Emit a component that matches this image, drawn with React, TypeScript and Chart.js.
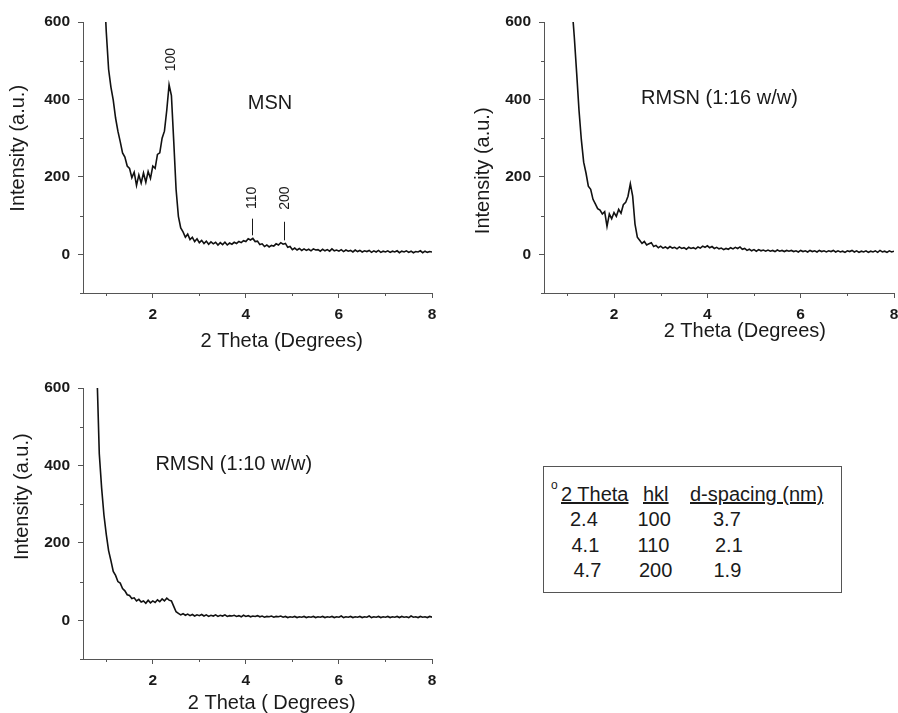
import React, { useEffect, useRef } from 'react';
import { Chart, registerables } from 'chart.js';

Chart.register(...registerables);

// ---------------- data ----------------
const THETA = [
  0.8, 0.85, 0.9, 0.95, 1.0, 1.05, 1.1, 1.15, 1.2, 1.25,
  1.3, 1.35, 1.4, 1.45, 1.5, 1.55, 1.6, 1.65, 1.7, 1.75,
  1.8, 1.85, 1.9, 1.95, 2.0, 2.05, 2.1, 2.15, 2.2, 2.25,
  2.3, 2.35, 2.4, 2.45, 2.5, 2.55, 2.6, 2.65, 2.7, 2.75,
  2.8, 2.85, 2.9, 2.95, 3.0, 3.05, 3.1, 3.15, 3.2, 3.25,
  3.3, 3.35, 3.4, 3.45, 3.5, 3.55, 3.6, 3.65, 3.7, 3.75,
  3.8, 3.85, 3.9, 3.95, 4.0, 4.05, 4.1, 4.15, 4.2, 4.25,
  4.3, 4.35, 4.4, 4.45, 4.5, 4.55, 4.6, 4.65, 4.7, 4.75,
  4.8, 4.85, 4.9, 4.95, 5.0, 5.05, 5.1, 5.15, 5.2, 5.25,
  5.3, 5.35, 5.4, 5.45, 5.5, 5.55, 5.6, 5.65, 5.7, 5.75,
  5.8, 5.85, 5.9, 5.95, 6.0, 6.05, 6.1, 6.15, 6.2, 6.25,
  6.3, 6.35, 6.4, 6.45, 6.5, 6.55, 6.6, 6.65, 6.7, 6.75,
  6.8, 6.85, 6.9, 6.95, 7.0, 7.05, 7.1, 7.15, 7.2, 7.25,
  7.3, 7.35, 7.4, 7.45, 7.5, 7.55, 7.6, 7.65, 7.7, 7.75,
  7.8, 7.85, 7.9, 7.95, 8.0,
];

const MSN = [
  null, null, null, 700, 575, 478, 432, 398, 352, 318,
  291, 262, 251, 228, 222, 198, 212, 178, 205, 184,
  210, 186, 214, 196, 228, 222, 258, 262, 300, 318,
  372, 438, 410, 292, 168, 98, 68, 58, 44, 52,
  38, 44, 33, 40, 30, 36, 28, 34, 26, 32,
  27, 31, 24, 30, 25, 31, 24, 29, 26, 31,
  28, 33, 30, 35, 33, 40, 37, 41, 33, 34,
  25, 27, 20, 24, 19, 23, 21, 27, 24, 30,
  26, 28, 18, 20, 12, 16, 11, 15, 10, 14,
  10, 13, 9, 14, 11, 12, 8, 13, 9, 12,
  8, 14, 9, 11, 8, 12, 7, 11, 8, 10,
  6, 11, 7, 10, 6, 9, 7, 10, 5, 9,
  6, 10, 5, 8, 6, 9, 5, 8, 6, 9,
  4, 8, 6, 9, 5, 8, 4, 7, 6, 9,
  4, 8, 5, 7, 6,
];

const RMSN_16 = [
  null, null, null, null, null, null, 640, 560, 468, 372,
  296, 238, 210, 176, 168, 142, 130, 118, 114, 104,
  110, 72, 104, 92, 108, 98, 116, 106, 128, 134,
  150, 182, 150, 78, 44, 36, 28, 33, 24, 27,
  30, 20, 23, 17, 21, 16, 19, 15, 20, 16,
  18, 14, 19, 15, 17, 13, 18, 15, 17, 14,
  19, 16, 21, 18, 22, 17, 20, 15, 18, 14,
  16, 12, 15, 13, 17, 14, 18, 15, 19, 13,
  15, 10, 13, 9, 12, 8, 12, 9, 11, 8,
  11, 8, 10, 7, 11, 8, 10, 7, 10, 8,
  10, 7, 9, 6, 10, 7, 9, 6, 10, 7,
  9, 6, 10, 7, 9, 6, 9, 7, 10, 6,
  9, 6, 8, 5, 9, 7, 10, 6, 9, 5,
  8, 6, 9, 5, 8, 6, 9, 5, 10, 6,
  8, 5, 9, 6, 8,
];

const RMSN_10 = [
  640, 430, 342, 272, 222, 180, 154, 126, 116, 100,
  96, 82, 76, 66, 64, 56, 58, 50, 54, 47,
  50, 44, 52, 45, 50, 46, 53, 48, 55, 50,
  57, 52, 50, 36, 22, 18, 14, 17, 13, 16,
  12, 15, 11, 14, 12, 15, 11, 14, 10, 13,
  11, 14, 10, 13, 11, 14, 10, 12, 11, 13,
  10, 12, 9, 13, 10, 12, 9, 11, 10, 12,
  9, 11, 8, 10, 9, 11, 8, 10, 9, 11,
  8, 10, 7, 9, 8, 10, 7, 9, 8, 10,
  7, 9, 8, 10, 7, 9, 8, 10, 7, 9,
  8, 10, 7, 9, 8, 11, 7, 9, 8, 10,
  7, 9, 8, 10, 7, 9, 8, 11, 7, 9,
  8, 10, 7, 9, 8, 10, 7, 9, 8, 10,
  7, 10, 8, 9, 7, 11, 8, 9, 7, 10,
  8, 9, 7, 10, 8,
];

const X_TICKS = [1, 2, 3, 4, 5, 6, 7, 8];
const X_LABELED = [2, 4, 6, 8];
const Y_TICKS = [-100, 0, 100, 200, 300, 400, 500, 600];
const Y_LABELED = [0, 200, 400, 600];

const SAMPLE_NAMES = ['MSN', 'RMSN (1:16 w/w)', 'RMSN (1:10 w/w)'];
const Y_TITLE = 'Intensity (a.u.)';
const X_TITLES = ['2 Theta (Degrees)', '2 Theta (Degrees)', '2 Theta ( Degrees)'];

// peak (hkl) labels of the MSN pattern
const PEAK_LABELS = ['100', '110', '200'];
const PEAK_LABEL_X = [2.38, 4.12, 4.82];
const PEAK_LABEL_Y = [503, 146, 145];
const PEAK_MARK_X = [null, 4.14, 4.83];
const PEAK_MARK_TOP = [null, 92, 84];
const PEAK_MARK_BOTTOM = [null, 49, 36];

// table
const TABLE_HEAD = ['2 Theta', 'hkl', 'd-spacing (nm)'];
const TABLE_THETA = ['2.4', '4.1', '4.7'];
const TABLE_HKL = ['100', '110', '200'];
const TABLE_D = ['3.7', '2.1', '1.9'];

// ---------------- styling / layout ----------------
const FONT = '"Liberation Sans", Arial, Helvetica, sans-serif';
const AXIS_COLOR = '#555555';
const INK = '#1a1a1a';
const LINE_COLOR = '#111111';

type PanelCfg = {
  key: string;
  series: (number | null)[];
  nameIdx: number;
  nameX: number;
  nameY: number;
  left: number;
  top: number;
  w: number;
  h: number;
  yAxisW: number;
  padTop: number;
  padRight: number;
  xAxisH: number;
  yTitlePos: [number, number];
  xTitlePos: [number, number];
  peaks: boolean;
};

const PANELS: PanelCfg[] = [
  {
    key: 'msn', series: MSN, nameIdx: 0, nameX: 4.52, nameY: 374,
    left: 0, top: 0, w: 450, h: 360, yAxisW: 83, padTop: 22, padRight: 18, xAxisH: 67,
    yTitlePos: [24, 148.3], xTitlePos: [281.7, 346.5], peaks: true,
  },
  {
    key: 'r16', series: RMSN_16, nameIdx: 1, nameX: 4.26, nameY: 389,
    left: 450, top: 0, w: 460, h: 360, yAxisW: 94, padTop: 22, padRight: 16, xAxisH: 67,
    yTitlePos: [38.5, 170.8], xTitlePos: [294.8, 336.5], peaks: false,
  },
  {
    key: 'r10', series: RMSN_10, nameIdx: 2, nameX: 3.74, nameY: 387,
    left: 0, top: 360, w: 450, h: 360, yAxisW: 83, padTop: 28, padRight: 18, xAxisH: 61,
    yTitlePos: [27.5, 136.7], xTitlePos: [271.7, 348.5], peaks: false,
  },
];

function Panel({ p }: { p: PanelCfg }) {
  const ref = useRef<HTMLCanvasElement>(null);

  useEffect(() => {
    const canvas = ref.current;
    if (!canvas) return;

    const overlay = {
      id: 'overlay-' + p.key,
      afterDraw(chart: any) {
        const { ctx, chartArea: a, scales } = chart;
        const xs = scales.x;
        const ys = scales.y;
        ctx.save();
        // minor ticks
        ctx.strokeStyle = AXIS_COLOR;
        ctx.lineWidth = 1;
        X_TICKS.filter((v) => !X_LABELED.includes(v)).forEach((v) => {
          const px = Math.round(xs.getPixelForValue(v)) + 0.5;
          ctx.beginPath();
          ctx.moveTo(px, a.bottom);
          ctx.lineTo(px, a.bottom + 3);
          ctx.stroke();
        });
        Y_TICKS.filter((v) => !Y_LABELED.includes(v)).forEach((v) => {
          const py = Math.round(ys.getPixelForValue(v)) + 0.5;
          ctx.beginPath();
          ctx.moveTo(a.left, py);
          ctx.lineTo(a.left - 3, py);
          ctx.stroke();
        });

        ctx.fillStyle = INK;
        ctx.textAlign = 'center';
        ctx.textBaseline = 'alphabetic';

        // sample name
        ctx.font = `20px ${FONT}`;
        ctx.fillText(SAMPLE_NAMES[p.nameIdx], xs.getPixelForValue(p.nameX), ys.getPixelForValue(p.nameY));

        // axis titles
        ctx.fillText(X_TITLES[p.nameIdx], p.xTitlePos[0], p.xTitlePos[1]);
        ctx.save();
        ctx.translate(p.yTitlePos[0], p.yTitlePos[1]);
        ctx.rotate(-Math.PI / 2);
        ctx.fillText(Y_TITLE, 0, 0);
        ctx.restore();

        // peak labels
        if (p.peaks) {
          ctx.font = `14px ${FONT}`;
          PEAK_LABELS.forEach((lab, i) => {
            const px = xs.getPixelForValue(PEAK_LABEL_X[i]);
            const py = ys.getPixelForValue(PEAK_LABEL_Y[i]);
            ctx.save();
            ctx.translate(px + 5, py);
            ctx.rotate(-Math.PI / 2);
            ctx.fillText(lab, 0, 0);
            ctx.restore();
            const mx = PEAK_MARK_X[i];
            if (mx !== null) {
              const lx = Math.round(xs.getPixelForValue(mx)) + 0.5;
              ctx.strokeStyle = INK;
              ctx.beginPath();
              ctx.moveTo(lx, ys.getPixelForValue(PEAK_MARK_TOP[i] as number));
              ctx.lineTo(lx, ys.getPixelForValue(PEAK_MARK_BOTTOM[i] as number));
              ctx.stroke();
            }
          });
        }
        ctx.restore();
      },
    };

    const tickFont = { family: FONT, size: 15.5, weight: 'bold' as const };

    const chart = new Chart(canvas, {
      type: 'line',
      data: {
        datasets: [
          {
            data: THETA.map((t, i) => ({ x: t, y: p.series[i] })) as any,
            borderColor: LINE_COLOR,
            borderWidth: 1.6,
            pointRadius: 0,
            fill: false,
            tension: 0,
          },
        ],
      },
      options: {
        responsive: false,
        animation: false,
        events: [],
        layout: { padding: { left: 0, top: p.padTop, right: p.padRight, bottom: 0 } },
        plugins: { legend: { display: false }, tooltip: { enabled: false } },
        scales: {
          x: {
            type: 'linear',
            min: 0.5,
            max: 8,
            afterBuildTicks: (s: any) => {
              s.ticks = X_TICKS.map((v) => ({ value: v }));
            },
            afterFit: (s: any) => {
              s.height = p.xAxisH;
            },
            ticks: {
              autoSkip: false,
              maxRotation: 0,
              padding: 7,
              color: INK,
              font: tickFont,
              callback: (v: any) => (X_LABELED.includes(Number(v)) ? String(v) : ''),
            },
            grid: {
              drawOnChartArea: false,
              drawTicks: true,
              tickLength: 5,
              tickColor: (c: any) => (c.tick && X_LABELED.includes(c.tick.value) ? AXIS_COLOR : 'rgba(0,0,0,0)'),
            },
            border: { display: true, color: AXIS_COLOR, width: 1 },
          },
          y: {
            type: 'linear',
            min: -100,
            max: 600,
            afterBuildTicks: (s: any) => {
              s.ticks = Y_TICKS.map((v) => ({ value: v }));
            },
            afterFit: (s: any) => {
              s.width = p.yAxisW;
            },
            ticks: {
              autoSkip: false,
              padding: 8,
              color: INK,
              font: tickFont,
              callback: (v: any) => (Y_LABELED.includes(Number(v)) ? String(v) : ''),
            },
            grid: {
              drawOnChartArea: false,
              drawTicks: true,
              tickLength: 5,
              tickColor: (c: any) => (c.tick && Y_LABELED.includes(c.tick.value) ? AXIS_COLOR : 'rgba(0,0,0,0)'),
            },
            border: { display: true, color: AXIS_COLOR, width: 1 },
          },
        },
      },
      plugins: [overlay],
    });

    return () => chart.destroy();
  }, []);

  return (
    <canvas
      ref={ref}
      width={p.w}
      height={p.h}
      style={{ position: 'absolute', left: p.left, top: p.top, display: 'block' }}
    />
  );
}

const txt = (left: number, top: number, extra: React.CSSProperties = {}): React.CSSProperties => ({
  position: 'absolute',
  left,
  top,
  font: `20px ${FONT}`,
  lineHeight: '20px',
  whiteSpace: 'nowrap',
  color: INK,
  ...extra,
});

export default function App() {
  const rowTops = [509, 535.2, 560.2];
  const thetaLeft = [570, 571.5, 573.5];
  const hklLeft = [637.5, 637.5, 639];
  const dLeft = [713, 715, 713.5];
  return (
    <div
      style={{
        position: 'absolute',
        left: 0,
        top: 0,
        width: 898,
        height: 713,
        overflow: 'hidden',
        background: '#ffffff',
      }}
    >
      {PANELS.map((p) => (
        <Panel key={p.key} p={p} />
      ))}
      <div
        style={{
          position: 'absolute',
          left: 543,
          top: 466,
          width: 299,
          height: 127,
          border: `1px solid ${AXIS_COLOR}`,
          boxSizing: 'border-box',
        }}
      />
      <span style={txt(551, 479, { font: `12px ${FONT}`, lineHeight: '12px' })}>o</span>
      <span style={txt(561, 484, { textDecoration: 'underline' })}>{TABLE_HEAD[0]}</span>
      <span style={txt(643, 484, { textDecoration: 'underline' })}>{TABLE_HEAD[1]}</span>
      <span style={txt(690, 484, { textDecoration: 'underline' })}>{TABLE_HEAD[2]}</span>
      {TABLE_THETA.map((v, i) => (
        <React.Fragment key={i}>
          <span style={txt(thetaLeft[i], rowTops[i])}>{v}</span>
          <span style={txt(hklLeft[i], rowTops[i])}>{TABLE_HKL[i]}</span>
          <span style={txt(dLeft[i], rowTops[i])}>{TABLE_D[i]}</span>
        </React.Fragment>
      ))}
    </div>
  );
}
